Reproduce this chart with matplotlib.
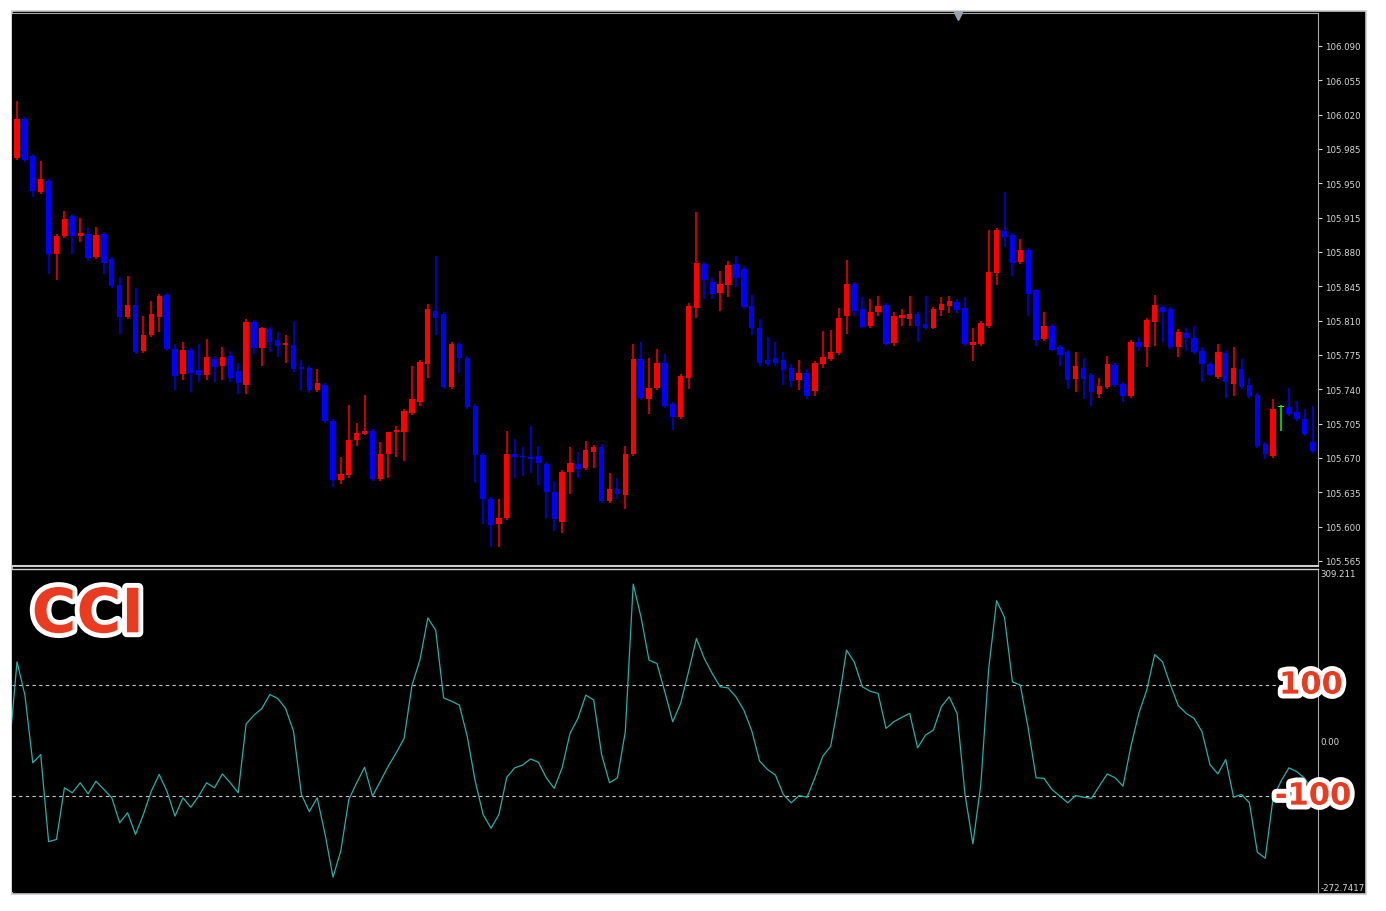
""" USD/JPY candles with CCI sub-window
"""
import matplotlib
matplotlib.use('Agg')
import matplotlib.pyplot as plt
import matplotlib.patheffects as pe
import matplotlib.transforms as mtrans
from matplotlib.patches import Rectangle
from matplotlib.lines import Line2D
import numpy as np

# candle data (open, high, low, close), oldest first
opens = [105.976, 106.016, 105.978, 105.941, 105.952, 105.878, 105.896, 105.917, 105.896, 105.898,
         105.875, 105.898, 105.873, 105.846, 105.814, 105.826, 105.779, 105.795, 105.814, 105.836,
         105.781, 105.756, 105.780, 105.760, 105.755, 105.771, 105.764, 105.774, 105.759, 105.744,
         105.809, 105.782, 105.801, 105.790, 105.785, 105.785, 105.763, 105.762, 105.739, 105.744,
         105.708, 105.648, 105.653, 105.688, 105.694, 105.698, 105.649, 105.674, 105.696, 105.697,
         105.716, 105.727, 105.766, 105.820, 105.817, 105.742, 105.786, 105.772, 105.723, 105.673,
         105.628, 105.603, 105.609, 105.674, 105.672, 105.671, 105.672, 105.664, 105.635, 105.605,
         105.656, 105.664, 105.660, 105.676, 105.681, 105.626, 105.638, 105.632, 105.674, 105.771,
         105.730, 105.741, 105.767, 105.725, 105.712, 105.752, 105.823, 105.868, 105.849, 105.838,
         105.846, 105.868, 105.863, 105.825, 105.803, 105.770, 105.772, 105.770, 105.762, 105.749,
         105.757, 105.738, 105.766, 105.771, 105.777, 105.815, 105.847, 105.822, 105.805, 105.819,
         105.826, 105.787, 105.813, 105.812, 105.817, 105.807, 105.803, 105.821, 105.825, 105.829,
         105.823, 105.785, 105.786, 105.805, 105.859, 105.901, 105.897, 105.870, 105.882, 105.841,
         105.791, 105.805, 105.783, 105.778, 105.751, 105.762, 105.755, 105.735, 105.742, 105.765,
         105.745, 105.733, 105.788, 105.783, 105.809, 105.824, 105.822, 105.783, 105.797, 105.792,
         105.779, 105.766, 105.753, 105.777, 105.745, 105.761, 105.744, 105.734, 105.684, 105.672,
         105.722, 105.722, 105.717, 105.710, 105.686]
highs = [106.034, 106.018, 105.980, 105.973, 105.954, 105.898, 105.922, 105.919, 105.915, 105.904,
         105.905, 105.900, 105.875, 105.854, 105.856, 105.843, 105.815, 105.830, 105.837, 105.838,
         105.786, 105.788, 105.782, 105.786, 105.791, 105.774, 105.783, 105.779, 105.767, 105.812,
         105.811, 105.804, 105.804, 105.798, 105.795, 105.810, 105.770, 105.764, 105.761, 105.746,
         105.710, 105.671, 105.724, 105.706, 105.734, 105.700, 105.686, 105.697, 105.703, 105.720,
         105.764, 105.770, 105.827, 105.876, 105.819, 105.788, 105.788, 105.774, 105.725, 105.675,
         105.630, 105.628, 105.698, 105.689, 105.681, 105.703, 105.682, 105.666, 105.647, 105.658,
         105.681, 105.676, 105.687, 105.683, 105.684, 105.655, 105.650, 105.682, 105.786, 105.788,
         105.772, 105.781, 105.776, 105.727, 105.756, 105.828, 105.921, 105.870, 105.854, 105.861,
         105.871, 105.876, 105.866, 105.836, 105.812, 105.793, 105.788, 105.778, 105.766, 105.770,
         105.761, 105.769, 105.799, 105.800, 105.823, 105.872, 105.849, 105.834, 105.832, 105.835,
         105.828, 105.819, 105.822, 105.835, 105.819, 105.835, 105.824, 105.834, 105.835, 105.832,
         105.834, 105.803, 105.810, 105.902, 105.904, 105.941, 105.899, 105.893, 105.884, 105.842,
         105.819, 105.807, 105.785, 105.780, 105.778, 105.772, 105.757, 105.752, 105.774, 105.767,
         105.747, 105.790, 105.793, 105.813, 105.836, 105.826, 105.824, 105.801, 105.803, 105.805,
         105.783, 105.768, 105.786, 105.779, 105.783, 105.771, 105.752, 105.736, 105.686, 105.730,
         105.724, 105.741, 105.728, 105.720, 105.723]
lows = [105.974, 105.972, 105.936, 105.939, 105.858, 105.851, 105.894, 105.878, 105.890, 105.871,
        105.873, 105.858, 105.843, 105.796, 105.812, 105.776, 105.777, 105.793, 105.798, 105.779,
        105.739, 105.750, 105.737, 105.747, 105.750, 105.747, 105.750, 105.747, 105.735, 105.735,
        105.776, 105.764, 105.778, 105.773, 105.767, 105.758, 105.739, 105.736, 105.737, 105.706,
        105.640, 105.643, 105.650, 105.682, 105.693, 105.647, 105.647, 105.650, 105.671, 105.667,
        105.714, 105.723, 105.752, 105.795, 105.740, 105.740, 105.757, 105.720, 105.645, 105.603,
        105.579, 105.579, 105.607, 105.650, 105.652, 105.655, 105.642, 105.609, 105.596, 105.594,
        105.633, 105.650, 105.658, 105.660, 105.624, 105.624, 105.628, 105.618, 105.672, 105.729,
        105.715, 105.739, 105.721, 105.699, 105.710, 105.740, 105.813, 105.832, 105.832, 105.820,
        105.834, 105.844, 105.822, 105.795, 105.764, 105.764, 105.764, 105.744, 105.742, 105.739,
        105.730, 105.733, 105.762, 105.769, 105.775, 105.796, 105.815, 105.802, 105.803, 105.815,
        105.784, 105.784, 105.805, 105.805, 105.788, 105.800, 105.801, 105.815, 105.818, 105.818,
        105.784, 105.769, 105.784, 105.803, 105.846, 105.885, 105.856, 105.868, 105.815, 105.784,
        105.789, 105.779, 105.764, 105.740, 105.737, 105.730, 105.723, 105.731, 105.740, 105.742,
        105.727, 105.731, 105.779, 105.763, 105.784, 105.788, 105.781, 105.773, 105.779, 105.776,
        105.747, 105.754, 105.751, 105.731, 105.733, 105.740, 105.731, 105.680, 105.669, 105.670,
        105.698, 105.713, 105.708, 105.692, 105.675]
closes = [106.016, 105.974, 105.942, 105.954, 105.878, 105.896, 105.914, 105.896, 105.899, 105.874,
          105.897, 105.869, 105.845, 105.814, 105.826, 105.778, 105.795, 105.817, 105.835, 105.781,
          105.754, 105.780, 105.757, 105.755, 105.773, 105.763, 105.773, 105.752, 105.746, 105.809,
          105.782, 105.802, 105.788, 105.784, 105.787, 105.761, 105.761, 105.739, 105.746, 105.708,
          105.648, 105.654, 105.688, 105.695, 105.698, 105.649, 105.674, 105.696, 105.699, 105.718,
          105.730, 105.768, 105.822, 105.813, 105.742, 105.786, 105.772, 105.722, 105.673, 105.628,
          105.602, 105.609, 105.674, 105.671, 105.671, 105.669, 105.665, 105.635, 105.608, 105.656,
          105.665, 105.659, 105.678, 105.681, 105.626, 105.638, 105.633, 105.674, 105.771, 105.731,
          105.741, 105.767, 105.723, 105.712, 105.754, 105.825, 105.869, 105.851, 105.837, 105.847,
          105.867, 105.853, 105.824, 105.802, 105.767, 105.766, 105.767, 105.760, 105.748, 105.757,
          105.733, 105.767, 105.773, 105.778, 105.813, 105.847, 105.820, 105.804, 105.819, 105.825,
          105.786, 105.815, 105.816, 105.817, 105.805, 105.803, 105.822, 105.827, 105.830, 105.821,
          105.786, 105.788, 105.808, 105.860, 105.902, 105.895, 105.869, 105.882, 105.837, 105.790,
          105.805, 105.780, 105.775, 105.750, 105.764, 105.751, 105.737, 105.743, 105.766, 105.744,
          105.733, 105.788, 105.783, 105.811, 105.826, 105.819, 105.783, 105.798, 105.792, 105.778,
          105.766, 105.755, 105.778, 105.747, 105.762, 105.742, 105.733, 105.682, 105.674, 105.720,
          105.722, 105.715, 105.710, 105.694, 105.677]

# CCI values, first one belongs to the bar just left of the window
cci = [-20,
       142, 82, -40, -25, -182, -178, -85, -94, -76, -96,
       -73, -88, -103, -148, -130, -169, -133, -91, -61, -92,
       -136, -103, -120, -100, -76, -85, -60, -76, -94, 30,
       46, 58, 83, 76, 58, 17, -97, -128, -103, -169,
       -246, -198, -106, -76, -48, -100, -73, -46, -22, 4,
       100, 145, 221, 199, 77, 71, 64, 7, -73, -133,
       -158, -133, -66, -49, -44, -33, -39, -67, -86, -49,
       13, 40, 82, 73, -25, -76, -67, 16, 282, 222,
       145, 139, 88, 34, 67, 124, 184, 148, 121, 97,
       95, 79, 55, 18, -37, -52, -62, -97, -112, -99,
       -102, -67, -28, -10, 70, 163, 141, 97, 89, 85,
       22, 34, 42, 49, -13, 10, 19, 61, 79, 49,
       -97, -186, -79, 130, 252, 222, 106, 100, 22, -67,
       -68, -88, -100, -112, -99, -102, -104, -82, -60, -67,
       -82, -10, 49, 91, 155, 142, 100, 63, 49, 40,
       16, -43, -60, -34, -102, -97, -112, -201, -212, -103,
       -73, -49, -56, -68, -90]

cci_levels = [100, -100]
cci_max = 309.211
cci_min = -272.7417
price_ticks = np.arange(105.565, 106.0901, 0.035)

# colours
bull_col = '#ff0000'
bear_col = '#0000ff'
doji_col = '#00ff00'
cci_col = '#20b2aa'
txt_col = '#d8d8d8'
frame_col = '#a8a8a8'
label_red = '#ea3a1f'

W, H = 1386, 912
fig = plt.figure(figsize=(W / 100, H / 100), dpi=100, facecolor='white')

# black chart window with grey frame (drawn below the axes)
fig.patches.append(Rectangle((12 / W, 1 - 895 / H), (1366 - 12) / W, (895 - 12) / H,
                             transform=fig.transFigure, facecolor='black',
                             edgecolor='#c8c8c8', lw=1.2, zorder=-10))

ax = fig.add_axes([12 / W, 1 - 567 / H, 1306 / W, 553 / H])
ax2 = fig.add_axes([12 / W, 1 - 893 / H, 1306 / W, 323 / H], sharex=ax)

o = np.array(opens)
h = np.array(highs)
l = np.array(lows)
c = np.array(closes)
x = np.arange(len(o))

cols = np.where(c > o, bull_col, np.where(c < o, bear_col, doji_col))
body_lo = np.minimum(o, c)
body_h = np.maximum(np.abs(c - o), 0.0011)

ax.vlines(x, l, h, colors=cols, lw=1.1, zorder=2)
ax.bar(x, body_h, bottom=body_lo, width=0.68, color=cols, lw=0, zorder=3)

ax.set_xlim(-0.633, 164.68)
ax.set_ylim(105.5599, 106.1236)

# CCI panel
xc = np.arange(-1, len(cci) - 1)
ax2.plot(xc, cci, color=cci_col, lw=0.9, zorder=3)
for lev in cci_levels:
    ax2.axhline(lev, color='#c8c8c8', lw=0.8, dashes=(3, 3), zorder=2)
ax2.set_ylim(cci_min, cci_max)

for a in (ax, ax2):
    a.set_facecolor('black')
    a.yaxis.tick_right()
    a.tick_params(axis='y', which='both', direction='out', length=3, width=0.8,
                  colors=txt_col, labelsize=6.2, pad=2)
    a.tick_params(axis='x', which='both', bottom=False, labelbottom=False)
    a.spines['left'].set_visible(False)
    a.spines['right'].set_color(frame_col)

ax.spines['top'].set_color(frame_col)
ax.spines['bottom'].set_color('#d0d0d0')
ax.spines['bottom'].set_linewidth(1.5)
ax2.spines['top'].set_color('#d0d0d0')
ax2.spines['top'].set_linewidth(1.0)
ax2.spines['bottom'].set_visible(False)

ax.set_yticks(price_ticks)
ax.set_yticklabels(['%.3f' % p for p in price_ticks])

ax2.set_yticks([cci_min, 0, cci_max])
ax2.set_yticklabels(['-272.7417', '0.00', '309.211'])
tl = ax2.get_yticklabels()
tl[0].set_va('bottom')
tl[2].set_va('top')
ax2.tick_params(axis='y', length=0)

# shift marker at the top of the chart
fig.add_artist(Line2D([958 / W], [1 - 17 / H], marker='v', markersize=6,
                      color='#9aa0b0', transform=fig.transFigure))

# overlay labels
outline = [pe.Stroke(linewidth=7, foreground='white'), pe.Normal()]
ax2.text(0.058, 0.855, 'CCI', transform=ax2.transAxes, ha='center', va='center',
         fontsize=44, fontweight='bold', color=label_red, path_effects=outline, zorder=5)
trans = mtrans.blended_transform_factory(ax2.transAxes, ax2.transData)
ax2.text(0.9946, 100, '100', transform=trans, ha='center', va='center', fontsize=22,
         fontweight='bold', color=label_red, path_effects=outline, clip_on=False, zorder=5)
ax2.text(0.9962, -100, '-100', transform=trans, ha='center', va='center', fontsize=22,
         fontweight='bold', color=label_red, path_effects=outline, clip_on=False, zorder=5)

fig.savefig('out.png', dpi=100, facecolor=fig.get_facecolor())
